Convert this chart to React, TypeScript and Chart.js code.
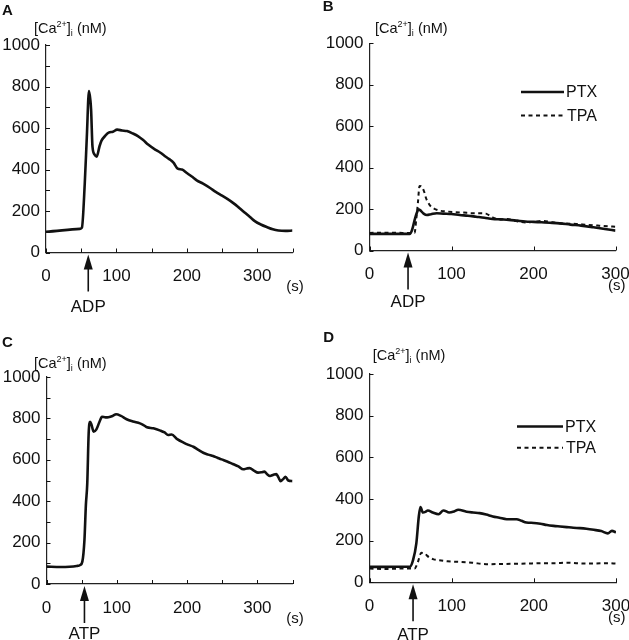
import React, { useEffect, useRef } from "react";
import { Chart, registerables } from "chart.js";

Chart.register(...registerables);

const FONT = '"Liberation Sans", Arial, Helvetica, sans-serif';

// ---------- DATA ----------
// Panel A: ADP, control
const timeA = [0, 48, 51, 55, 58, 61, 64, 66, 69, 72, 76, 79, 84, 89, 95, 101, 108, 115, 123, 131, 138, 145, 155, 162, 169, 175, 181, 187, 193, 200, 207, 214, 223, 233, 241, 250, 258, 266, 274, 283, 290, 297, 305, 314, 322, 330, 340, 350];
const caA = [100, 114, 120, 330, 560, 778, 690, 510, 472, 462, 512, 540, 562, 578, 582, 592, 588, 585, 574, 560, 542, 520, 496, 482, 464, 450, 433, 404, 400, 383, 366, 348, 332, 311, 292, 274, 257, 238, 216, 190, 170, 150, 135, 122, 112, 106, 104, 106];

// Panel B: ADP, PTX / TPA
const timeBPtx = [0, 20, 40, 49, 52, 55, 58, 60, 63, 66, 70, 75, 82, 90, 100, 110, 120, 130, 140, 150, 160, 170, 180, 190, 200, 210, 220, 232, 245, 258, 273, 287, 300];
const caBPtx = [80, 80, 80, 80, 100, 147, 185, 199, 190, 178, 171, 175, 180, 178, 176, 171, 168, 163, 158, 152, 150, 148, 144, 140, 138, 136, 134, 131, 125, 120, 112, 104, 96];
const timeBTpa = [0, 20, 40, 55, 57, 59, 61, 63, 65, 67, 69, 72, 75, 80, 86, 95, 105, 115, 125, 135, 142, 150, 160, 168, 175, 183, 190, 200, 212, 220, 230, 240, 252, 265, 280, 300];
const caBTpa = [85, 86, 85, 85, 150, 228, 311, 310, 300, 280, 252, 228, 212, 200, 192, 188, 185, 183, 180, 180, 178, 160, 150, 152, 145, 139, 135, 138, 143, 138, 132, 130, 128, 124, 120, 115];

// Panel C: ATP, control
const timeC = [0, 20, 43, 48, 51, 54, 56, 58, 60, 62, 64, 67, 71, 75, 79, 84, 88, 94, 99, 106, 114, 123, 133, 138, 143, 152, 162, 168, 173, 178, 186, 195, 202, 209, 216, 223, 230, 237, 243, 249, 257, 265, 273, 280, 285, 289, 295, 301, 306, 310, 314, 318, 323, 327, 330, 333, 337, 340, 344, 350];
const caC = [84, 82, 87, 92, 108, 213, 380, 486, 728, 784, 770, 736, 747, 780, 808, 805, 806, 812, 820, 812, 796, 785, 776, 768, 757, 752, 741, 732, 720, 722, 700, 683, 672, 663, 648, 634, 625, 618, 610, 602, 592, 580, 568, 554, 558, 560, 548, 538, 540, 543, 530, 522, 528, 531, 515, 497, 508, 518, 500, 497];

// Panel D: ATP, PTX / TPA
const timeDPtx = [0, 20, 40, 49, 53, 57, 60, 62, 65, 68, 71, 77, 84, 90, 97, 103, 108, 118, 126, 134, 142, 150, 158, 167, 179, 185, 191, 200, 208, 216, 224, 232, 240, 248, 256, 264, 273, 282, 290, 295, 300];
const caDPtx = [74, 74, 75, 74, 106, 187, 316, 361, 335, 338, 345, 335, 327, 345, 335, 340, 348, 339, 335, 332, 325, 316, 310, 303, 303, 295, 287, 285, 281, 275, 271, 268, 265, 262, 260, 257, 252, 246, 235, 247, 240];
const timeDTpa = [0, 20, 40, 55, 57, 59, 61, 63, 65, 67, 70, 73, 78, 85, 95, 110, 125, 142, 160, 175, 191, 210, 225, 240, 255, 272, 290, 300];
const caDTpa = [66, 64, 66, 66, 78, 98, 125, 142, 141, 139, 128, 119, 110, 106, 101, 98, 94, 87, 88, 89, 90, 92, 92, 94, 91, 90, 92, 90];

// agonist addition times (s)
const arrowTimes = [60, 47, 54, 53];
const agonists = ["ADP", "ADP", "ATP", "ATP"];
const panelLetters = ["A", "B", "C", "D"];
const legendLabels = ["PTX", "TPA"];
const yTickLabels = [0, 200, 400, 600, 800, 1000];
const xTickLabels = [0, 100, 200, 300];

// ---------- LAYOUT / STYLE ----------
type Series = { t: number[]; v: number[]; dashed: boolean };
type Panel = {
  idx: number;
  left: number; top: number; width: number; height: number;
  area: { left: number; top: number; right: number; bottom: number };
  xMax: number; xStep: number; yStep: number;
  series: Series[];
  letterPos: [number, number];
  titlePos: [number, number];
  sPos: [number, number];
  labelOffset: number;
  legend?: { x0: number; x1: number; y1: number; y2: number; tx: number };
};

const panels: Panel[] = [
  {
    idx: 0, left: 0, top: 0, width: 314, height: 320,
    area: { left: 46, top: 45, right: 292.5, bottom: 252.5 },
    xMax: 350, xStep: 50, yStep: 100,
    series: [{ t: timeA, v: caA, dashed: false }],
    letterPos: [2, 11], titlePos: [34, 28], sPos: [295, 287], labelOffset: 55,
  },
  {
    idx: 1, left: 314, top: 0, width: 315, height: 320,
    area: { left: 55.5, top: 43.3, right: 301.5, bottom: 250.5 },
    xMax: 300, xStep: 100, yStep: 200,
    series: [
      { t: timeBPtx, v: caBPtx, dashed: false },
      { t: timeBTpa, v: caBTpa, dashed: true },
    ],
    letterPos: [8.7, 7], titlePos: [61, 28], sPos: [302.7, 286], labelOffset: 52,
    legend: { x0: 207, x1: 250, y1: 92, y2: 115.5, tx: 252 },
  },
  {
    idx: 2, left: 0, top: 320, width: 314, height: 320,
    area: { left: 46.5, top: 57, right: 292.5, bottom: 264 },
    xMax: 350, xStep: 50, yStep: 100,
    series: [{ t: timeC, v: caC, dashed: false }],
    letterPos: [2, 22.5], titlePos: [34, 43.3], sPos: [295, 298.5], labelOffset: 50,
  },
  {
    idx: 3, left: 314, top: 320, width: 315, height: 320,
    area: { left: 55.5, top: 54, right: 302, bottom: 262.3 },
    xMax: 300, xStep: 100, yStep: 200,
    series: [
      { t: timeDPtx, v: caDPtx, dashed: false },
      { t: timeDTpa, v: caDTpa, dashed: true },
    ],
    letterPos: [9.3, 18.3], titlePos: [58.7, 35], sPos: [302.7, 297.5], labelOffset: 53,
    legend: { x0: 203, x1: 249, y1: 106.5, y2: 127.7, tx: 251 },
  },
];

const INK = "#111";

function drawTitle(ctx: CanvasRenderingContext2D, x: number, cy: number) {
  const base = cy + 5;
  let cx = x;
  const part = (txt: string, size: number, dy: number) => {
    ctx.font = `${size}px ${FONT}`;
    ctx.fillText(txt, cx, base + dy);
    cx += ctx.measureText(txt).width;
  };
  ctx.textAlign = "left";
  ctx.textBaseline = "alphabetic";
  part("[Ca", 14.5, 0);
  part("2+", 9, -6);
  part("]", 14.5, 0);
  part("i", 9, 3);
  part(" (nM)", 14.5, 0);
}

function makePlugin(p: Panel) {
  return {
    id: "decor" + p.idx,
    afterDraw(chart: any) {
      const ctx: CanvasRenderingContext2D = chart.ctx;
      const { left, bottom } = chart.chartArea;
      const xs = chart.scales.x;
      const ys = chart.scales.y;
      ctx.save();
      ctx.strokeStyle = INK;
      ctx.fillStyle = INK;
      // inward tick marks
      ctx.lineWidth = 1;
      ctx.beginPath();
      ys.ticks.forEach((t: any) => {
        const y = Math.round(ys.getPixelForValue(t.value)) + 0.5;
        ctx.moveTo(left, y);
        ctx.lineTo(left + 4, y);
      });
      xs.ticks.forEach((t: any) => {
        const x = Math.round(xs.getPixelForValue(t.value)) + 0.5;
        ctx.moveTo(x, bottom);
        ctx.lineTo(x, bottom - 4);
      });
      ctx.stroke();

      // agonist arrow
      const ax = xs.getPixelForValue(arrowTimes[p.idx]);
      const tipY = bottom + 2;
      ctx.lineWidth = 1.6;
      ctx.beginPath();
      ctx.moveTo(ax, tipY + 10);
      ctx.lineTo(ax, bottom + 39);
      ctx.stroke();
      ctx.beginPath();
      ctx.moveTo(ax, tipY);
      ctx.lineTo(ax - 4.5, tipY + 15);
      ctx.lineTo(ax + 4.5, tipY + 15);
      ctx.closePath();
      ctx.fill();
      ctx.font = `17px ${FONT}`;
      ctx.textAlign = "center";
      ctx.textBaseline = "middle";
      ctx.fillText(agonists[p.idx], ax, bottom + p.labelOffset);

      // (s)
      ctx.font = `15px ${FONT}`;
      ctx.fillText("(s)", p.sPos[0], p.sPos[1]);

      // panel letter
      ctx.font = `bold 15px ${FONT}`;
      ctx.textAlign = "left";
      ctx.fillText(panelLetters[p.idx], p.letterPos[0], p.letterPos[1]);

      // y title
      drawTitle(ctx, p.titlePos[0], p.titlePos[1]);

      // legend
      if (p.legend) {
        const L = p.legend;
        ctx.lineWidth = 2.5;
        ctx.setLineDash([]);
        ctx.beginPath();
        ctx.moveTo(L.x0, L.y1);
        ctx.lineTo(L.x1, L.y1);
        ctx.stroke();
        ctx.lineWidth = 2;
        ctx.setLineDash([4, 3.5]);
        ctx.beginPath();
        ctx.moveTo(L.x0, L.y2);
        ctx.lineTo(L.x1, L.y2);
        ctx.stroke();
        ctx.setLineDash([]);
        ctx.font = `16px ${FONT}`;
        ctx.textAlign = "left";
        ctx.textBaseline = "middle";
        ctx.fillText(legendLabels[0], L.tx, L.y1 + 1);
        ctx.fillText(legendLabels[1], L.tx + 1, L.y2 + 1);
      }
      ctx.restore();
    },
  };
}

function PanelChart({ p }: { p: Panel }) {
  const ref = useRef<HTMLCanvasElement | null>(null);
  useEffect(() => {
    if (!ref.current) return;
    const chart = new Chart(ref.current, {
      type: "line",
      data: {
        datasets: p.series.map((s) => ({
          data: s.t.map((x, i) => ({ x, y: s.v[i] })),
          borderColor: INK,
          borderWidth: s.dashed ? 2 : 2.6,
          borderDash: s.dashed ? [4, 3.5] : [],
          pointRadius: 0,
          fill: false,
          tension: 0.3,
          cubicInterpolationMode: "monotone" as const,
        })),
      },
      options: {
        responsive: false,
        animation: false,
        events: [],
        layout: {
          padding: {
            left: 0,
            top: p.area.top,
            right: p.width - p.area.right,
            bottom: 0,
          },
        },
        plugins: { legend: { display: false }, tooltip: { enabled: false } },
        scales: {
          x: {
            type: "linear",
            min: 0,
            max: p.xMax,
            grid: { display: false, drawTicks: false },
            border: { display: true, color: "#222", width: 1.2 },
            ticks: {
              stepSize: p.xStep,
              autoSkip: false,
              maxRotation: 0,
              padding: 14,
              color: INK,
              font: { size: 17, family: FONT },
              callback: (v: any) => (xTickLabels.includes(Number(v)) ? String(v) : ""),
            },
            afterFit: (s: any) => {
              s.height = p.height - p.area.bottom;
              s.paddingLeft = 0;
              s.paddingRight = 0;
            },
          },
          y: {
            type: "linear",
            min: 0,
            max: 1000,
            grid: { display: false, drawTicks: false },
            border: { display: true, color: "#222", width: 1.2 },
            ticks: {
              stepSize: p.yStep,
              autoSkip: false,
              padding: 6,
              color: INK,
              font: { size: 17, family: FONT },
              callback: (v: any) => (yTickLabels.includes(Number(v)) ? String(v) : ""),
            },
            afterFit: (s: any) => {
              s.width = p.area.left;
              s.paddingTop = 0;
              s.paddingBottom = 0;
            },
          },
        },
      },
      plugins: [makePlugin(p)],
    } as any);
    return () => chart.destroy();
  }, [p]);
  return (
    <canvas
      ref={ref}
      width={p.width}
      height={p.height}
      style={{ position: "absolute", left: p.left, top: p.top, width: p.width, height: p.height }}
    />
  );
}

export default function App() {
  Chart.defaults.font.family = FONT;
  return (
    <div style={{ position: "absolute", left: 0, top: 0, width: 629, height: 640, background: "#fff", overflow: "hidden" }}>
      {panels.map((p) => (
        <PanelChart key={p.idx} p={p} />
      ))}
    </div>
  );
}
